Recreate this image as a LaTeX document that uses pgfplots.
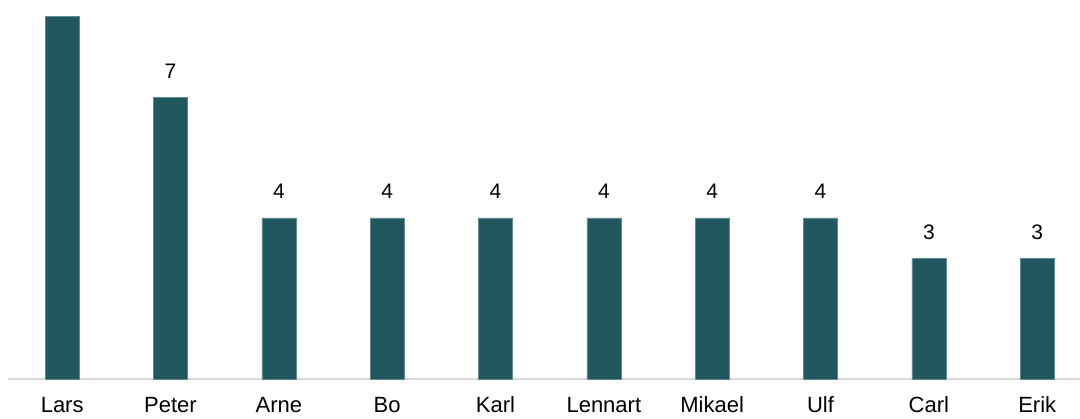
\documentclass[border=0pt]{standalone}
\usepackage{fontspec}
\setmainfont{Liberation Sans}
\usepackage{pgfplots}
\pgfplotsset{compat=1.18}
\definecolor{barteal}{RGB}{33,87,94}
\definecolor{baredge}{RGB}{95,140,146}
\definecolor{axisgrey}{RGB}{217,217,217}
\begin{document}
\begin{tikzpicture}
\useasboundingbox (0,0) rectangle (1080pt,419pt);
\begin{axis}[
    at={(8pt,40pt)}, anchor=south west,
    scale only axis,
    width=1083.3pt, height=402.5pt,
    xmin=-0.5, xmax=9.5, ymin=0, ymax=10,
    axis x line*=bottom,
    hide y axis,
    x axis line style={draw=axisgrey, line width=1.5pt, -},
    xtick={0,...,9},
    xticklabels={Lars,Peter,Arne,Bo,Karl,Lennart,Mikael,Ulf,Carl,Erik},
    major tick length=0pt,
    xticklabel style={anchor=base, yshift=-34pt, font=\fontsize{22}{26}\selectfont, text=black},
    ybar, bar width=34pt,
    nodes near coords,
    /pgf/number format/assume math mode=true,
    every node near coord/.append style={anchor=base, yshift=19pt, font=\fontsize{21}{25}\selectfont, text=black},
    clip=false,
]
\addplot[fill=barteal, draw=baredge, line width=0.6pt, bar shift=0pt]
  coordinates {(0,9)(1,7)(2,4)(3,4)(4,4)(5,4)(6,4)(7,4)(8,3)(9,3)};
\end{axis}
\end{tikzpicture}
\end{document}
